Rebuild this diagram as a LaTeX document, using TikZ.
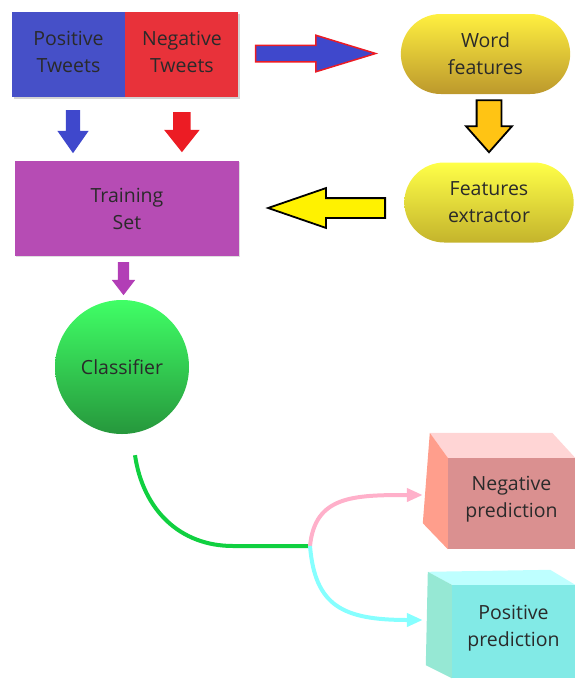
\documentclass[tikz,border=0pt]{standalone}
\usepackage{fontspec}
\setmainfont{Open Sans}
\usepackage{tikz}
\usetikzlibrary{shapes,arrows,arrows.meta,positioning,calc,shadows}

\definecolor{posblue}{HTML}{4650C8}
\definecolor{negred}{HTML}{E8323A}
\definecolor{arrblue}{HTML}{3F48CC}
\definecolor{arrred}{HTML}{EC1C24}
\definecolor{trainpurple}{HTML}{B64CB4}
\definecolor{arrpurple}{HTML}{B23EB6}
\definecolor{wordtop}{HTML}{FFF040}
\definecolor{wordmid}{HTML}{FAC624}
\definecolor{wordbot}{HTML}{BC982C}
\definecolor{feattop}{HTML}{FFFF48}
\definecolor{featmid}{HTML}{F6EE24}
\definecolor{featbot}{HTML}{C4B42C}
\definecolor{orangearr}{HTML}{FFC414}
\definecolor{yellowarr}{HTML}{FFF200}
\definecolor{clftop}{HTML}{40FF66}
\definecolor{clfmid}{HTML}{34D452}
\definecolor{clfbot}{HTML}{26973C}
\definecolor{linkgreen}{HTML}{10D040}
\definecolor{linkpink}{HTML}{FFB0CA}
\definecolor{linkcyan}{HTML}{86FFFF}
\definecolor{negfront}{HTML}{DA9090}
\definecolor{negtop}{HTML}{FFD5D5}
\definecolor{negside}{HTML}{FF9E8C}
\definecolor{posfront}{HTML}{82EAE6}
\definecolor{postop}{HTML}{BEFFFF}
\definecolor{posside}{HTML}{96E8D4}
\definecolor{txt}{HTML}{2A2A2A}

\begin{document}
\begin{tikzpicture}[x=1pt,y=-1pt,
    boxtext/.style={text=txt,font=\fontsize{19.5}{27}\selectfont,align=center},
    tweets/.style={boxtext,rectangle,inner sep=0pt,minimum width=113pt,minimum height=85pt,
      drop shadow={shadow xshift=1.5pt,shadow yshift=-1.5pt,opacity=.35}},
    pill/.style={boxtext,rounded rectangle,minimum width=176pt,minimum height=80pt},
    blockarrow/.style={single arrow,inner sep=0pt,outer sep=0pt,single arrow head indent=0pt,anchor=tail},
    cube/.style={boxtext,rectangle,inner sep=0pt},
    link/.style={line width=4pt}]
  \useasboundingbox (0,0) rectangle (587,683);

  % tweets and training set
  \node[tweets,fill=posblue] (pos) at (68.5,54.5) {};
  \node[tweets,fill=negred,right=0pt of pos] (neg) {};
  \node[boxtext] at ($(pos.center)+(0,-2.5)$) {Positive\\Tweets};
  \node[boxtext] at ($(neg.center)+(0,-2.5)$) {Negative\\Tweets};
  \node[boxtext,rectangle,fill=trainpurple,minimum width=224pt,minimum height=95pt,
    drop shadow={shadow xshift=1pt,shadow yshift=-1pt,opacity=.25}] (train) at (127,208.5) {Training\\Set};

  % features
  \node[pill,top color=wordtop,middle color=wordmid,bottom color=wordbot] (word) at (485.5,54) {Word\\features};
  \node[pill,top color=feattop,middle color=featmid,bottom color=featbot] (feat) at (489,202.5) {Features\\extractor};

  \node[boxtext,circle,minimum size=134pt,top color=clftop,middle color=clfmid,bottom color=clfbot] (clf) at (122,367) {Classifier};

  % predictions
  \node[cube,fill=negfront,minimum width=127pt,minimum height=91pt] (negp) at (511.5,503.5) {};
  \fill[negtop] (negp.north west) -- ++(-18,-25) -- ($(negp.north east)+(-23,-25)$) -- (negp.north east) -- cycle;
  \fill[negside] (negp.north west) -- ++(-18,-25) -- ($(negp.south west)+(-25,-26)$) -- (negp.south west) -- cycle;
  \node[boxtext] at ($(negp.center)+(0,-4)$) {Negative\\prediction};
  \node[cube,fill=posfront,minimum width=123pt,minimum height=93pt] (posp) at (513.5,631.5) {};
  \fill[postop] (posp.north west) -- ++(-24,-13) -- ($(posp.north east)+(-25,-15)$) -- (posp.north east) -- cycle;
  \fill[posside] (posp.north west) -- ++(-24,-13) -- ($(posp.south west)+(-26,-13)$) -- (posp.south west) -- cycle;
  \node[boxtext] at ($(posp.center)+(0,-3)$) {Positive\\prediction};

  % block arrows
  \node[blockarrow,fill=arrblue,shape border rotate=270,minimum height=43pt,inner xsep=7pt,
    single arrow head extend=8.5pt,single arrow tip angle=70] at ($(pos.south)+(4.5,13)$) {};
  \node[blockarrow,fill=arrred,shape border rotate=270,minimum height=40pt,inner xsep=8.5pt,
    single arrow head extend=9pt,single arrow tip angle=77] at ($(neg.south)+(0,15)$) {};
  \node[blockarrow,fill=arrblue,draw=arrred,line width=1.5pt,minimum height=120pt,inner ysep=7.5pt,
    single arrow head extend=10pt,single arrow tip angle=34] at ($(neg.east)+(17,-1)$) {};
  \node[blockarrow,fill=orangearr,draw=black,line width=1.8pt,shape border rotate=270,minimum height=52pt,
    inner xsep=11.5pt,single arrow head extend=10.5pt,single arrow tip angle=83] at ($(word.south)+(3.5,6)$) {};
  \node[blockarrow,fill=yellowarr,draw=black,line width=1.8pt,shape border rotate=180,minimum height=117pt,
    inner ysep=9pt,single arrow head extend=10pt,single arrow tip angle=38] at ($(feat.west)+(-19,5.5)$) {};
  \node[blockarrow,fill=arrpurple,shape border rotate=270,minimum height=33pt,inner xsep=5.5pt,
    single arrow head extend=6pt,single arrow tip angle=75] at ($(train.south)+(-3.5,6)$) {};

  % classifier output
  \coordinate (out) at ($(clf.south)+(13,21)$);
  \coordinate (split) at (310,546);
  \coordinate (negin) at ($(negp.west)+(-25,-8.5)$);
  \coordinate (posin) at ($(posp.west)+(-29,-11.5)$);
  \draw[link,linkgreen] (out) .. controls (143,510) and (180,546) .. (233,546) -- (split);
  \draw[link,linkpink,-{Triangle[length=16pt,width=13pt]}] (split) .. controls +(5,-50) and +(-70,0) .. (negin);
  \draw[link,linkcyan,-{Triangle[length=16pt,width=13pt]}] (split) .. controls +(5,60) and +(-80,0) .. (posin);
\end{tikzpicture}
\end{document}
